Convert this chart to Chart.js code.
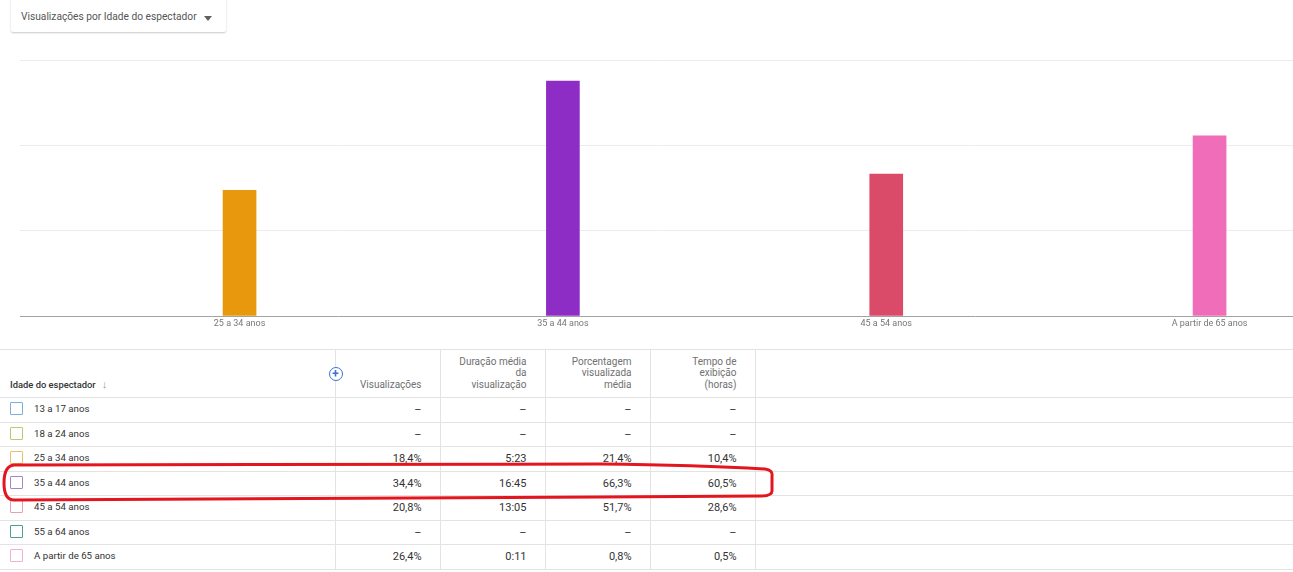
<!DOCTYPE html>
<html>
<head>
<meta charset="utf-8">
<script src="https://cdn.jsdelivr.net/npm/chart.js@4.4.0/dist/chart.umd.min.js"></script>
<style>
  body { margin: 0; background: #fff; font-family: Roboto, Arial, sans-serif; width: 1293px; height: 572px; overflow: hidden; position: relative; }
  .picker { position: absolute; left: 11px; top: -3px; width: 215px; height: 35px; background: #fff;
    box-shadow: 0 1px 2px rgba(0,0,0,0.22); border-radius: 2px; }
  .picker span { position: absolute; left: 10px; top: 14px; font-size: 10.2px; color: #555; }
  .picker i { position: absolute; left: 193px; top: 19px; width: 0; height: 0;
    border-left: 4px solid transparent; border-right: 4px solid transparent; border-top: 5px solid #606060; }
  #wrap { position: absolute; left: 0; top: 40px; width: 1293px; height: 300px; }
  table { position: absolute; left: 0; top: 349px; border-collapse: collapse; table-layout: fixed; width: 1293px; }
  td, th { border-top: 1px solid #e3e3e3; border-bottom: 1px solid #e3e3e3; padding: 0 18px 0 0; font-size: 11px; color: #333; text-align: right; white-space: nowrap; }
  th { height: 40px; font-weight: 400; color: #707070; font-size: 10px; line-height: 11.5px; vertical-align: bottom; padding-bottom: 7px; }
  td { height: 23.5px; }
  .bl { border-left: 1px solid #e3e3e3; }
  th.first { text-align: left; padding-left: 10px; color: #333; font-weight: 500; font-size: 9.4px; position: relative; }
  td.first { text-align: left; padding-left: 10px; font-size: 9.7px; }
  .box { display: inline-block; width: 11px; height: 11px; border: 1.3px solid; border-radius: 1px; vertical-align: middle; margin-right: 11px; position: relative; top: -1px; }
  .plus { position: absolute; right: -8px; top: 17px; width: 12px; height: 12px; border: 1.5px solid #3b6fd8; border-radius: 50%; background: #fff;
    color: #3b6fd8; font-size: 12px; line-height: 12px; text-align: center; font-weight: 700; z-index: 2; }
  .arrow { color: #999; margin-left: 6px; font-weight: 400; font-size: 11px; }
  svg.mark { position: absolute; left: 0; top: 0; }
</style>
</head>
<body>
<div class="picker"><span>Visualizações por Idade do espectador</span><i></i></div>
<div id="wrap"><canvas id="chart" width="1293" height="300"></canvas></div>
<table id="tbl"></table>
<svg class="mark" width="1293" height="572">
  <path d="M 14 465 L 600 464 Q 700 465 765 469 Q 773 470 772 476 L 772 491 Q 772 496 760 496 L 600 497 L 14 500 Q 4 500 4 483 Q 4 466 14 465 Z"
        fill="none" stroke="#e3161f" stroke-width="3"/>
</svg>
<script>
const ageGroups = ['13 a 17 anos', '18 a 24 anos', '25 a 34 anos', '35 a 44 anos', '45 a 54 anos', '55 a 64 anos', 'A partir de 65 anos']
const views = [null, null, 18.4, 34.4, 20.8, null, 26.4]
const avgDuration = [null, null, '5:23', '16:45', '13:05', null, '0:11']
const avgPercent = [null, null, 21.4, 66.3, 51.7, null, 0.8]
const watchHours = [null, null, 10.4, 60.5, 28.6, null, 0.5]
const groupColors = ['#4a90d9', '#a8c23a', '#e8980c', '#8e2dc5', '#da4b69', '#1f8f7f', '#f06dba']
const boxColors = ['#7aaee0', '#bccb6a', '#ebbd6c', '#a984cc', '#eaa0b3', '#4a9e92', '#f3aed4']
const yTicks = [0, 12.5, 25, 37.5]

const pct = v => v === null ? '–' : v.toFixed(1).replace('.', ',') + '%'

// chart shows only groups with data
const shown = ageGroups.map((g, i) => i).filter(i => views[i] !== null)
const chartLabels = shown.map(i => ageGroups[i])

new Chart(document.getElementById('chart'), {
  type: 'bar',
  data: {
    datasets: [{
      data: shown.map((i, k) => ({ x: k, y: views[i] })),
      backgroundColor: shown.map(i => groupColors[i]),
      barThickness: 33
    }]
  },
  options: {
    responsive: false,
    animation: false,
    layout: { padding: { top: 20, right: 0, left: 0, bottom: 0 } },
    plugins: { legend: { display: false }, tooltip: { enabled: false } },
    scales: {
      x: {
        type: 'linear',
        offset: false,
        min: -0.679,
        max: 3.258,
        afterBuildTicks: s => { s.ticks = chartLabels.map((_, k) => ({ value: k })) },
        afterFit: s => { s.height = 24 },
        grid: { display: false, drawTicks: false },
        border: { color: '#a3a3a3' },
        ticks: {
          callback: v => chartLabels[v],
          autoSkip: false,
          maxRotation: 0,
          padding: 2,
          color: '#777',
          font: { family: 'Roboto', size: 9 }
        }
      },
      y: {
        min: 0,
        max: 37.5,
        afterBuildTicks: s => { s.ticks = yTicks.map(v => ({ value: v })) },
        afterFit: s => { s.width = 20 },
        ticks: { display: false },
        border: { display: false },
        grid: {
          drawTicks: false,
          color: c => c.tick && c.tick.value === 0 ? 'rgba(0,0,0,0)' : '#ececec'
        }
      }
    }
  }
})

// table below the chart
const tbl = document.getElementById('tbl')
let html = '<colgroup><col style="width:335px"><col style="width:105px"><col style="width:105px"><col style="width:105px"><col style="width:105px"><col></colgroup>'
html += '<tr><th class="first">Idade do espectador<span class="arrow">&#8595;</span><div class="plus">+</div></th>' +
  '<th class="bl">Visualizações</th>' +
  '<th class="bl">Duração média<br>da<br>visualização</th>' +
  '<th class="bl">Porcentagem<br>visualizada<br>média</th>' +
  '<th class="bl">Tempo de<br>exibição<br>(horas)</th>' +
  '<th class="bl"></th></tr>'
ageGroups.forEach((g, i) => {
  html += '<tr><td class="first"><span class="box" style="border-color:' + boxColors[i] + '"></span>' + g + '</td>' +
    '<td class="bl">' + pct(views[i]) + '</td>' +
    '<td class="bl">' + (avgDuration[i] || '–') + '</td>' +
    '<td class="bl">' + pct(avgPercent[i]) + '</td>' +
    '<td class="bl">' + pct(watchHours[i]) + '</td>' +
    '<td class="bl"></td></tr>'
})
tbl.innerHTML = html
</script>
</body>
</html>
